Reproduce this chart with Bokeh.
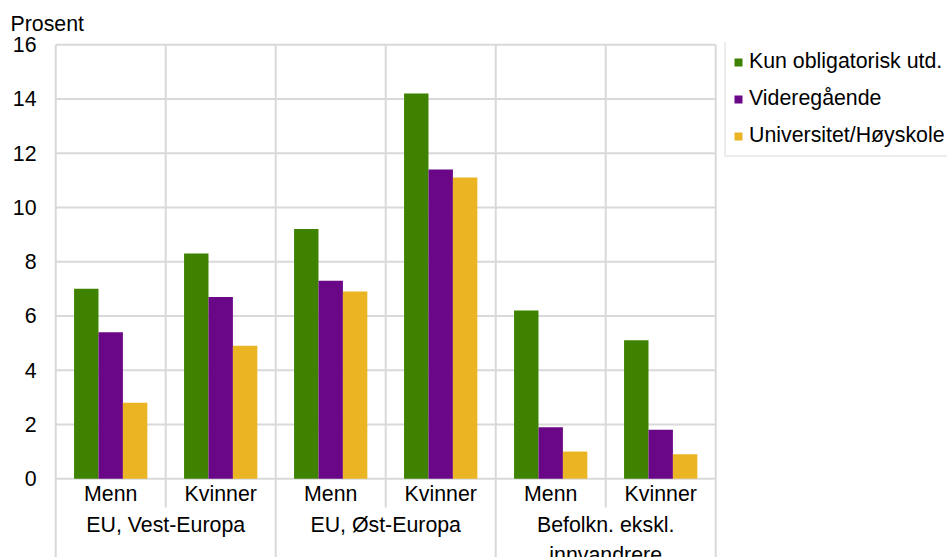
from bokeh.plotting import figure
from bokeh.models import ColumnDataSource, FixedTicker, Legend, LegendItem
from bokeh.transform import dodge
from bokeh.core.properties import value
from bokeh.embed import file_html
from bokeh.resources import INLINE

# ---- data ----
groups = ["EU, Vest-Europa", "EU, Øst-Europa", "Befolkn. ekskl.\ninnvandrere"]
sexes = ["Menn", "Kvinner"]
series = ["Kun obligatorisk utd.", "Videregående", "Universitet/Høyskole"]
obligatorisk = [7.0, 8.3, 9.2, 14.2, 6.2, 5.1]
videregaende = [5.4, 6.7, 7.3, 11.4, 1.9, 1.8]
universitet = [2.8, 4.9, 6.9, 11.1, 1.0, 0.9]
y_ticks = [0, 2, 4, 6, 8, 10, 12, 14, 16]
colors = ["#3e8200", "#6a0787", "#ebb422"]

FONT = "Liberation Sans"
FS = "16pt"
GRID = "#d9d9d9"

n_cat = len(groups) * len(sexes)
x_centers = [i + 0.5 for i in range(n_cat)]
sub_labels = [s for g in groups for s in sexes]

src = ColumnDataSource(dict(x=x_centers, a=obligatorisk, b=videregaende, c=universitet))

W_FIG, H_FIG = 947, 557
LEFT, TOP = 53, 42
Y_TOP = 16.08
Y_BOT = Y_TOP - (H_FIG - TOP) / 27.125
X_LEFT = -0.02
X_RIGHT = X_LEFT + (W_FIG - LEFT) / 110.0

p = figure(width=W_FIG, height=H_FIG, x_range=(X_LEFT, X_RIGHT), y_range=(Y_BOT, Y_TOP),
           output_backend="svg", toolbar_location=None, x_axis_location=None,
           min_border_left=LEFT, min_border_right=0, min_border_top=TOP, min_border_bottom=0)
p.outline_line_color = None
p.xgrid.visible = False
p.ygrid.visible = False

# y axis
p.yaxis.ticker = FixedTicker(ticks=y_ticks)
p.yaxis.axis_line_color = None
p.yaxis.major_tick_line_color = None
p.yaxis.minor_tick_line_color = None
p.yaxis.major_tick_out = 0
p.yaxis.major_tick_in = 0
p.yaxis.major_label_standoff = 17
p.yaxis.major_label_text_font = FONT
p.yaxis.major_label_text_font_size = FS
p.yaxis.major_label_text_color = "black"

# title
p.title.text = "Prosent"
p.title.align = "left"
p.title.offset = -43
p.title.text_font = FONT
p.title.text_font_size = FS
p.title.text_font_style = "normal"
p.title.text_color = "black"
p.title.standoff = 14

# horizontal gridlines
p.segment(x0=[0] * len(y_ticks), x1=[n_cat] * len(y_ticks), y0=y_ticks, y1=y_ticks,
          line_color=GRID, line_width=2)
# vertical separators
bounds = list(range(n_cat + 1))
bottoms = [Y_BOT if b % 2 == 0 else -1.06 for b in bounds]
p.segment(x0=bounds, x1=bounds, y0=bottoms, y1=[y_ticks[-1]] * len(bounds),
          line_color=GRID, line_width=2)

# bars
W = 0.222
rs = []
for key, off, col in zip(["a", "b", "c"], [-W, 0, W], colors):
    r = p.vbar(x=dodge("x", off, range=p.x_range), top=key, width=W, source=src,
               fill_color=col, line_color=None)
    rs.append(r)

# category labels
p.text(x=x_centers, y=[-0.564] * n_cat, text=sub_labels, text_align="center",
       text_baseline="middle", text_font=value(FONT), text_font_size=FS, text_color="black")
p.text(x=[1, 3, 5], y=[-1.28] * 3, text=groups, text_align="center",
       text_baseline="top", text_font=value(FONT), text_font_size=FS, text_color="black",
       text_line_height=1.25)

legend = Legend(items=[LegendItem(label=s, renderers=[r]) for s, r in zip(series, rs)],
                location=(671, 400))
legend.glyph_width = 10
legend.glyph_height = 10
legend.label_height = 21
legend.label_standoff = 6
legend.spacing = 12
legend.padding = 7
legend.margin = 0
legend.border_line_color = GRID
legend.border_line_width = 2
legend.label_text_font = FONT
legend.label_text_font_size = FS
legend.label_text_color = "black"
p.add_layout(legend)

open("out.html", "w").write(file_html(p, INLINE))
